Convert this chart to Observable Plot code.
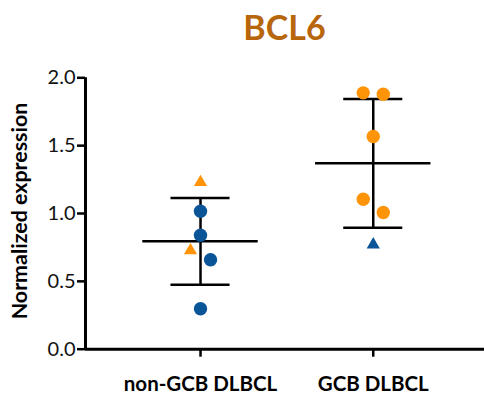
<!DOCTYPE html>
<html>
<head>
<meta charset="utf-8">
<script src="https://cdn.jsdelivr.net/npm/d3@7"></script>
<script src="https://cdn.jsdelivr.net/npm/@observablehq/plot@0.6"></script>
<style>
  html, body { margin: 0; padding: 0; background: #fff; }
  #title { height: 60px; box-sizing: border-box; padding-top: 10px; padding-left: 85px; width: 484px;
    text-align: center; font-family: Lato, "Open Sans", sans-serif; font-weight: 700; font-size: 34px;
    line-height: 34px; color: #b8660b; }
</style>
</head>
<body>
<div id="title">BCL6</div>
<div id="chart"></div>
<script>
// Groups (x axis categories)
const groups = ["non-GCB DLBCL", "GCB DLBCL"];
const yTicks = [0, 0.5, 1.0, 1.5, 2.0];

// Per-sample values
const sampleGroup = ["non-GCB DLBCL","non-GCB DLBCL","non-GCB DLBCL","non-GCB DLBCL","non-GCB DLBCL","non-GCB DLBCL",
                     "GCB DLBCL","GCB DLBCL","GCB DLBCL","GCB DLBCL","GCB DLBCL","GCB DLBCL"];
const expression  = [1.230, 1.017, 0.840, 0.727, 0.659, 0.298,
                     1.889, 1.879, 1.567, 1.105, 1.007, 0.771];
// classification by the other assay (colour); a mismatch with the group is drawn as a triangle
const otherCall   = ["GCB DLBCL","non-GCB DLBCL","non-GCB DLBCL","GCB DLBCL","non-GCB DLBCL","non-GCB DLBCL",
                     "GCB DLBCL","GCB DLBCL","GCB DLBCL","GCB DLBCL","GCB DLBCL","non-GCB DLBCL"];
// horizontal scatter of overlapping points (in category units)
const jitter      = [0, 0, 0, -0.058, 0.058, 0,
                     -0.058, 0.058, 0, -0.058, 0.058, 0];

const samples = expression.map((v, k) => ({
  gi: groups.indexOf(sampleGroup[k]),
  x: groups.indexOf(sampleGroup[k]) + jitter[k],
  y: v,
  call: otherCall[k],
  discordant: otherCall[k] !== sampleGroup[k]
}));

const stats = groups.map((g, i) => {
  const vals = expression.filter((v, k) => sampleGroup[k] === g);
  const m = d3.mean(vals), sd = d3.deviation(vals);
  return {i, mean: m, lo: m - sd, hi: m + sd};
});

const capHalf = 0.171, meanHalf = 0.334;
const blue = "#0a5597", orange = "#ff9408";

const chart = Plot.plot({
  width: 484,
  height: 339,
  marginLeft: 85,
  marginRight: 0,
  marginTop: 17.3,
  marginBottom: 50.3,
  style: {fontFamily: "Lato, 'Open Sans', sans-serif", fontSize: "18px", color: "#000", background: "#fff"},
  x: {domain: [-0.6658, 1.644]},
  y: {domain: [0, 2]},
  color: {domain: groups, range: [blue, orange]},
  marks: [
    Plot.axisY({ticks: yTicks, tickFormat: d3.format(".1f"), tickSize: 8, tickPadding: 2, strokeWidth: 2.5,
      stroke: "#000", fontSize: 20, fontWeight: 400, label: null, fill: "#111"}),
    Plot.axisX({ticks: [0, 1], tickFormat: i => groups[i], tickSize: 8, tickPadding: 19, strokeWidth: 2.5,
      stroke: "#000", fontSize: 20.5, fontWeight: 700, label: null, fill: "#000"}),
    Plot.ruleX([0], {x: () => -0.6658, y1: 0, y2: 2, strokeWidth: 3, stroke: "#000"}),
    Plot.ruleY([0], {strokeWidth: 3, stroke: "#000"}),
    Plot.text(["Normalized expression"], {text: d => d, frameAnchor: "left", textAnchor: "middle", dx: -65, dy: -2.5, rotate: -90,
      fontSize: 21.4, fontWeight: 700, fill: "#000"}),
    Plot.ruleX(stats, {x: "i", y1: "lo", y2: "hi", strokeWidth: 2.5, stroke: "#000"}),
    Plot.ruleY(stats, {y: "hi", x1: d => d.i - capHalf, x2: d => d.i + capHalf, strokeWidth: 2.5, stroke: "#000"}),
    Plot.ruleY(stats, {y: "lo", x1: d => d.i - capHalf, x2: d => d.i + capHalf, strokeWidth: 2.5, stroke: "#000"}),
    Plot.ruleY(stats, {y: "mean", x1: d => d.i - meanHalf, x2: d => d.i + meanHalf, strokeWidth: 2.5, stroke: "#000"}),
    Plot.dot(samples.filter(d => !d.discordant), {x: "x", y: "y", fill: "call", r: 6.7, symbol: "circle", stroke: null}),
    Plot.dot(samples.filter(d => d.discordant), {x: "x", y: "y", fill: "call", r: 4.9, symbol: "triangle", stroke: null})
  ]
});
document.getElementById("chart").appendChild(chart);
</script>
</body>
</html>
